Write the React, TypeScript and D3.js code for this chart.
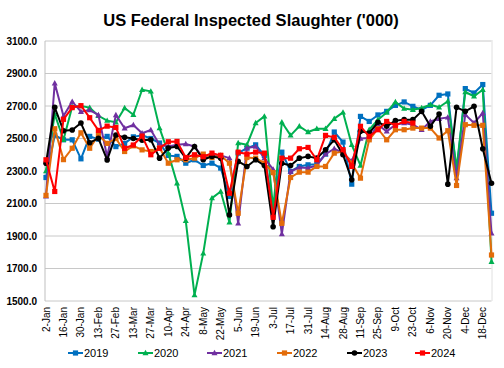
import React from "react";
import * as d3 from "d3";

const weeks: string[] = [
  "2-Jan","9-Jan","16-Jan","23-Jan","30-Jan","6-Feb","13-Feb","20-Feb","27-Feb","6-Mar",
  "13-Mar","20-Mar","27-Mar","3-Apr","10-Apr","17-Apr","24-Apr","1-May","8-May","15-May",
  "22-May","29-May","5-Jun","12-Jun","19-Jun","26-Jun","3-Jul","10-Jul","17-Jul","24-Jul",
  "31-Jul","7-Aug","14-Aug","21-Aug","28-Aug","4-Sep","11-Sep","18-Sep","25-Sep","2-Oct",
  "9-Oct","16-Oct","23-Oct","30-Oct","6-Nov","13-Nov","20-Nov","27-Nov","4-Dec","11-Dec",
  "18-Dec","25-Dec"
];

const s2019: number[] = [
  2260,2520,2492,2492,2375,2513,2496,2513,2450,2470,
  2510,2520,2500,2472,2396,2390,2348,2369,2334,2348,
  2318,2143,2410,2441,2461,2396,2070,2416,2297,2328,
  2338,2342,2404,2540,2478,2219,2636,2605,2645,2667,
  2704,2725,2698,2677,2704,2766,2774,2290,2807,2780,
  2832,2040
];
const s2020: number[] = [
  2300,2650,2492,2696,2700,2690,2640,2610,2600,2688,
  2646,2800,2790,2564,2410,2225,1993,1536,1793,2133,
  2174,1985,2472,2461,2595,2636,2070,2600,2519,2575,
  2540,2560,2560,2622,2661,2461,2334,2554,2616,2660,
  2725,2684,2677,2688,2708,2692,2729,2318,2786,2760,
  2800,1742
];
const s2021: number[] = [
  2145,2840,2638,2727,2665,2675,2645,2388,2645,2563,
  2583,2532,2552,2461,2451,2461,2466,2451,2379,2396,
  2396,2379,1978,2441,2451,2379,2310,1912,2297,2322,
  2318,2334,2404,2437,2410,2360,2500,2503,2585,2544,
  2585,2595,2585,2554,2605,2622,2630,2256,2647,2595,
  2657,1917
];
const s2022: number[] = [
  2150,2560,2370,2440,2535,2440,2520,2470,2500,2420,
  2455,2430,2420,2441,2348,2369,2369,2379,2404,2383,
  2396,2348,2040,2383,2379,2348,2290,1978,2260,2293,
  2293,2328,2328,2410,2420,2348,2256,2492,2560,2492,
  2554,2554,2564,2564,2564,2503,2548,2211,2585,2581,
  2581,1783
];
const s2023: number[] = [
  2348,2692,2548,2552,2595,2474,2501,2368,2522,2507,
  2500,2490,2492,2379,2441,2451,2379,2451,2369,2390,
  2379,2030,2359,2328,2369,2334,1957,2348,2334,2379,
  2390,2379,2431,2492,2400,2246,2544,2533,2600,2575,
  2610,2616,2616,2667,2575,2651,2219,2692,2667,2698,
  2437,2225
];
const s2024: number[] = [
  2369,2174,2618,2690,2702,2628,2550,2576,2568,2440,
  2460,2515,2400,2440,2480,2482,2383,2400,2388,2410,
  2396,2163,2416,2404,2416,2410,2015,2379,2379,2437,
  2445,2369,2519,2507,2431,2328,2575,2513,2554,2605,
  2581,2605,2595
];

const yTicks: number[] = [1500, 1700, 1900, 2100, 2300, 2500, 2700, 2900, 3100];

type Marker = "square" | "triangle" | "circle";
const seriesNames = ["2019", "2020", "2021", "2022", "2023", "2024"];
const seriesData = [s2019, s2020, s2021, s2022, s2023, s2024];
const seriesColors = ["#0070C0", "#00B050", "#7030A0", "#E36C0A", "#000000", "#FF0000"];
const seriesMarkers: Marker[] = ["square", "triangle", "triangle", "square", "circle", "square"];

const W = 504, H = 368;
const left = 46, right = 491.5, top = 41, bottom = 301;

function MarkerShape({ type, x, y, color }: { type: Marker; x: number; y: number; color: string }) {
  if (type === "square") return <rect x={x - 2.6} y={y - 2.6} width={5.2} height={5.2} fill={color} />;
  if (type === "circle") return <circle cx={x} cy={y} r={2.8} fill={color} />;
  return <path d={`M${x},${y - 3.2}L${x + 3},${y + 2.2}L${x - 3},${y + 2.2}Z`} fill={color} />;
}

export default function App() {
  const x = d3.scalePoint<string>().domain(weeks).range([left, right]);
  const y = d3.scaleLinear().domain([1500, 3100]).range([bottom, top]);
  const line = d3.line<number>().x((_, i) => x(weeks[i]) as number).y((d) => y(d));
  const font = "'Liberation Sans', Arial, sans-serif";
  const legendX = [68, 138, 207, 277, 347, 415];

  return (
    <svg width={W} height={H} style={{ position: "absolute", left: 0, top: 0, background: "#fff" }}>
      <rect x={0} y={0} width={W} height={H} fill="#fff" />
      <text x={251} y={26} textAnchor="middle" fontFamily={font} fontWeight="bold" fontSize={16.5} fill="#000">
        US Federal Inspected Slaughter ('000)
      </text>
      {yTicks.map((t) => (
        <g key={t}>
          <line x1={left - 1} x2={right} y1={y(t)} y2={y(t)} stroke="#c8c8c8" strokeWidth={1} />
          <text x={37} y={y(t) + 3.5} textAnchor="end" fontFamily={font} fontWeight="bold" fontSize={10} fill="#000">
            {t.toFixed(1)}
          </text>
        </g>
      ))}
      <line x1={left - 1} x2={left - 1} y1={top} y2={bottom} stroke="#bfbfbf" strokeWidth={1} />
      <line x1={right + 0.5} x2={right + 0.5} y1={top - 1} y2={bottom} stroke="#e0e0e0" strokeWidth={1} />
      {weeks.map((w, i) =>
        i % 2 === 0 ? (
          <text
            key={w}
            transform={`translate(${(x(w) as number) + 3.5},${bottom + 6}) rotate(-90)`}
            textAnchor="end"
            fontFamily={font}
            fontSize={10}
            fill="#000"
          >
            {w}
          </text>
        ) : null
      )}
      {seriesData.map((data, si) => (
        <g key={seriesNames[si]}>
          <path d={line(data) || ""} fill="none" stroke={seriesColors[si]} strokeWidth={2} strokeLinejoin="round" />
          {data.map((v, i) => (
            <MarkerShape key={i} type={seriesMarkers[si]} x={x(weeks[i]) as number} y={y(v)} color={seriesColors[si]} />
          ))}
        </g>
      ))}
      {seriesNames.map((n, si) => (
        <g key={n}>
          <line x1={legendX[si]} x2={legendX[si] + 15} y1={353} y2={353} stroke={seriesColors[si]} strokeWidth={2} />
          <MarkerShape type={seriesMarkers[si]} x={legendX[si] + 7.5} y={353} color={seriesColors[si]} />
          <text x={legendX[si] + 16} y={357} fontFamily={font} fontSize={11} fill="#000">
            {n}
          </text>
        </g>
      ))}
    </svg>
  );
}
